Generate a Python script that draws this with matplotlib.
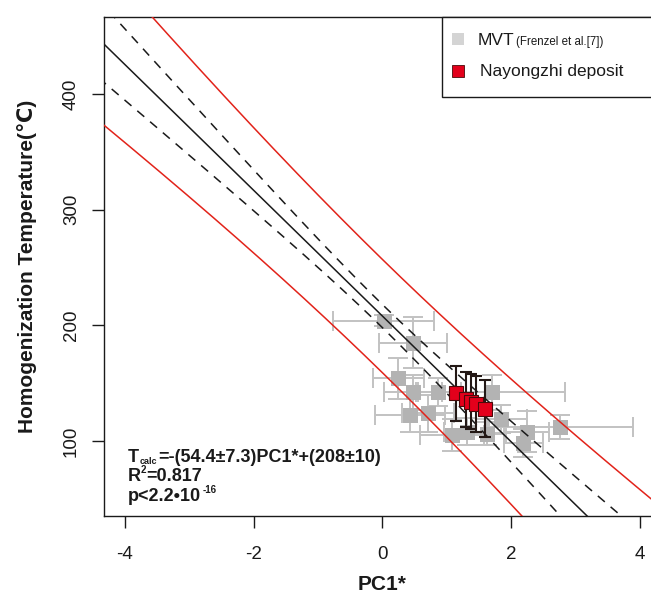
import numpy as np
import matplotlib.pyplot as plt
from matplotlib.lines import Line2D
from matplotlib.patches import Rectangle

plt.rcParams['font.family'] = ['Liberation Sans', 'DejaVu Sans']
plt.rcParams['axes.unicode_minus'] = False

# MVT data (Frenzel et al.)
mvt_pc1 = [0.02, 0.47, 0.25, 0.48, 0.87, 0.43, 0.71, 1.08, 1.70, 1.85, 2.24, 2.19, 2.76, 1.31, 1.62]
mvt_t = [204, 185, 154, 142, 142, 122, 124, 105, 142, 119, 108, 98, 112, 108, 106]
mvt_xerr = [0.78, 0.53, 0.40, 0.45, 0.35, 0.55, 0.40, 0.50, 1.14, 0.40, 0.35, 0.30, 1.14, 0.35, 0.30]
mvt_yerr = [5, 22, 18, 15, 12, 14, 16, 14, 15, 12, 18, 12, 10, 12, 10]

# Nayongzhi deposit
nyz_pc1 = [1.14, 1.30, 1.38, 1.45, 1.59]
nyz_t = [141, 136, 134, 132, 128]
nyz_yerr = [24, 24, 24, 24, 25]

# regression T = slope*PC1 + intercept
slope, slope_se = -54.4, 7.3
intercept, intercept_se = 208, 10
pred_w0, pred_wslope = 49, 11.6   # prediction band half width

W, H = 651, 599
fig = plt.figure(figsize=(W / 100, H / 100), dpi=100)
ax = fig.add_axes([104.3 / W, 83 / H, 556.2 / W, 499.3 / H])

# gray MVT points
ax.errorbar(mvt_pc1, mvt_t, xerr=mvt_xerr, yerr=mvt_yerr, fmt='none',
            ecolor='#c2c2c2', elinewidth=1.4, capsize=7, capthick=1.4, zorder=2)
ax.plot(mvt_pc1, mvt_t, 's', color='#b3b3b3', ms=10.8, mew=0, zorder=3)

# fit line and bands
xs = np.linspace(-5, 5, 300)
fit = slope * xs + intercept
conf = np.sqrt(intercept_se ** 2 + (slope_se * xs) ** 2)
pred = np.sqrt(pred_w0 ** 2 + (pred_wslope * xs) ** 2)
ax.plot(xs, fit, color='#1a1a1a', lw=1.1, zorder=4)
for s in (1, -1):
    ax.plot(xs, fit + s * conf, color='#1a1a1a', lw=1.1, ls=(0, (6, 5)), zorder=4)
    ax.plot(xs, fit + s * pred, color='#e2231a', lw=1.1, zorder=4)

# Nayongzhi points
ax.errorbar(nyz_pc1, nyz_t, yerr=nyz_yerr, fmt='none', ecolor='#231815',
            elinewidth=1.5, capsize=4.5, capthick=1.5, zorder=5)
ax.plot(nyz_pc1, nyz_t, 's', color='#e3001b', mec='#4a0a0a', mew=0.8, ms=9.5, zorder=6)

ax.set_xlim(-4.32, 4.32)
ax.set_ylim(35, 467)
ax.set_xticks([-4, -2, 0, 2, 4])
ax.set_yticks([100, 200, 300, 400])
ax.tick_params(direction='out', length=8.6, width=1, labelsize=13.5, colors='#1a1a1a')
ax.tick_params(axis='x', pad=13)
ax.tick_params(axis='y', pad=9, labelrotation=90)
for lab in ax.get_yticklabels():
    lab.set_va('center')
for sp in ax.spines.values():
    sp.set_linewidth(1)
    sp.set_color('#1a1a1a')

fig.text(382 / W, 1 - 585 / H, 'PC1*', ha='center', va='center',
         fontsize=15, fontweight='bold', color='#1a1a1a')
fig.text(27 / W, 1 - 266 / H, 'Homogenization Temperature(\u2103)', rotation=90,
         ha='center', va='center', fontsize=15, fontweight='bold', color='#1a1a1a')

# regression text
tk = dict(fontweight='bold', va='baseline', color='#1a1a1a')
fig.text(128 / W, 1 - 462 / H, 'T', fontsize=13, **tk)
fig.text(139.8 / W, 1 - 463.5 / H, 'calc', fontsize=6.5, **tk)
fig.text(158.5 / W, 1 - 462 / H, '=-(54.4\u00b17.3)PC1*+(208\u00b110)', fontsize=13, **tk)
fig.text(128 / W, 1 - 481 / H, 'R', fontsize=13, **tk)
fig.text(140.5 / W, 1 - 473 / H, '2', fontsize=7, **tk)
fig.text(146 / W, 1 - 481 / H, '=0.817', fontsize=13, **tk)
fig.text(128 / W, 1 - 501 / H, 'p<2.2\u202210', fontsize=13, **tk)
fig.text(202.5 / W, 1 - 493 / H, '-16', fontsize=7, **tk)

# legend box
fig.patches.append(Rectangle((441.7 / W, 1 - 96.7 / H), 0.5, (96.7 - 16.7) / H,
                             transform=fig.transFigure, facecolor='white',
                             edgecolor='#1a1a1a', lw=1, figure=fig))
fig.add_artist(Line2D([458 / W], [1 - 39 / H], marker='s', color='#d4d4d4', ms=9,
                      mew=0, transform=fig.transFigure))
fig.add_artist(Line2D([458 / W], [1 - 71 / H], marker='s', color='#e3001b', mec='#4a0a0a',
                      mew=0.6, ms=8.5, transform=fig.transFigure))
fig.text(478 / W, 1 - 45 / H, 'MVT', fontsize=12.5, va='baseline', color='#1a1a1a')
fig.text(516 / W, 1 - 45 / H, '(Frenzel et al.[7])', fontsize=8.3, va='baseline', color='#1a1a1a')
fig.text(480 / W, 1 - 76 / H, 'Nayongzhi deposit', fontsize=12.5, va='baseline', color='#1a1a1a')

fig.savefig('out.png', dpi=100)
